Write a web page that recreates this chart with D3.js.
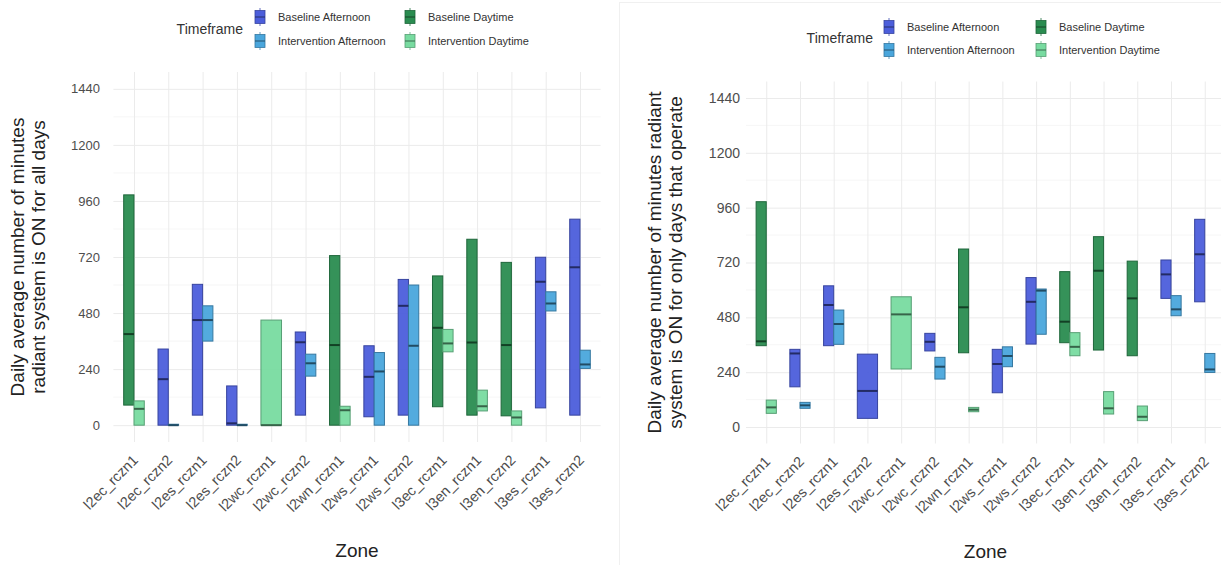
<!DOCTYPE html>
<html>
<head>
<meta charset="utf-8">
<script src="https://cdn.jsdelivr.net/npm/d3@7/dist/d3.min.js"></script>
<style>
  html, body { margin: 0; padding: 0; background: #fff; }
  svg { display: block; font-family: "Liberation Sans", Arial, Helvetica, sans-serif; }
</style>
</head>
<body>
<svg id="chart" width="1221" height="565"></svg>
<script>
// Zones on the x axis
const zones = [
  "l2ec_rczn1", "l2ec_rczn2", "l2es_rczn1", "l2es_rczn2", "l2wc_rczn1",
  "l2wc_rczn2", "l2wn_rczn1", "l2ws_rczn1", "l2ws_rczn2", "l3ec_rczn1",
  "l3en_rczn1", "l3en_rczn2", "l3es_rczn1", "l3es_rczn2"
];

// Timeframe groups (legend order) and their fills
const timeframes = ["Baseline Afternoon", "Baseline Daytime", "Intervention Afternoon", "Intervention Daytime"];
const timeframeColors = ["#4c5edb", "#2a8c50", "#4aa6dc", "#78dba0"];

// y-axis breaks (minutes)
const yTicks = [0, 240, 480, 720, 960, 1200, 1440];
const yMinor = [120, 360, 600, 840, 1080, 1320];

// Minutes ON per day, all days: [zone, timeframe, min, median, max]
const allDays = [
  ["l2ec_rczn1", "Baseline Daytime", 86, 390, 986],
  ["l2ec_rczn1", "Intervention Daytime", 0, 70, 104],
  ["l2ec_rczn2", "Baseline Afternoon", 0, 197, 326],
  ["l2ec_rczn2", "Intervention Afternoon", 0, 0, 4],
  ["l2es_rczn1", "Baseline Afternoon", 43, 450, 603],
  ["l2es_rczn1", "Intervention Afternoon", 360, 450, 511],
  ["l2es_rczn2", "Baseline Afternoon", 0, 8, 168],
  ["l2es_rczn2", "Intervention Afternoon", 0, 0, 4],
  ["l2wc_rczn1", "Intervention Daytime", 0, 0, 450],
  ["l2wc_rczn2", "Baseline Afternoon", 43, 355, 399],
  ["l2wc_rczn2", "Intervention Afternoon", 210, 265, 304],
  ["l2wn_rczn1", "Baseline Daytime", 0, 343, 726],
  ["l2wn_rczn1", "Intervention Daytime", 0, 64, 81],
  ["l2ws_rczn1", "Baseline Afternoon", 36, 207, 340],
  ["l2ws_rczn1", "Intervention Afternoon", 0, 230, 311],
  ["l2ws_rczn2", "Baseline Afternoon", 43, 511, 624],
  ["l2ws_rczn2", "Intervention Afternoon", 0, 340, 600],
  ["l3ec_rczn1", "Baseline Daytime", 79, 417, 639],
  ["l3ec_rczn1", "Intervention Daytime", 314, 350, 410],
  ["l3en_rczn1", "Baseline Daytime", 43, 354, 796],
  ["l3en_rczn1", "Intervention Daytime", 61, 81, 150],
  ["l3en_rczn2", "Baseline Daytime", 40, 343, 697],
  ["l3en_rczn2", "Intervention Daytime", 0, 33, 61],
  ["l3es_rczn1", "Baseline Afternoon", 74, 614, 719],
  ["l3es_rczn1", "Intervention Afternoon", 489, 521, 571],
  ["l3es_rczn2", "Baseline Afternoon", 43, 676, 882],
  ["l3es_rczn2", "Intervention Afternoon", 243, 260, 321]
];

// Minutes ON per day, operating days only: [zone, timeframe, min, median, max]
const operatingDays = [
  ["l2ec_rczn1", "Baseline Daytime", 356, 375, 986],
  ["l2ec_rczn1", "Intervention Daytime", 60, 86, 118],
  ["l2ec_rczn2", "Baseline Afternoon", 176, 322, 340],
  ["l2ec_rczn2", "Intervention Afternoon", 82, 95, 108],
  ["l2es_rczn1", "Baseline Afternoon", 356, 534, 618],
  ["l2es_rczn1", "Intervention Afternoon", 362, 451, 512],
  ["l2es_rczn2", "Baseline Afternoon", 38, 158, 319],
  ["l2wc_rczn1", "Intervention Daytime", 254, 493, 570],
  ["l2wc_rczn2", "Baseline Afternoon", 333, 373, 410],
  ["l2wc_rczn2", "Intervention Afternoon", 210, 264, 305],
  ["l2wn_rczn1", "Baseline Daytime", 325, 524, 779],
  ["l2wn_rczn1", "Intervention Daytime", 67, 76, 86],
  ["l2ws_rczn1", "Baseline Afternoon", 150, 276, 340],
  ["l2ws_rczn1", "Intervention Afternoon", 264, 311, 351],
  ["l2ws_rczn2", "Baseline Afternoon", 363, 548, 654],
  ["l2ws_rczn2", "Intervention Afternoon", 406, 597, 604],
  ["l3ec_rczn1", "Baseline Daytime", 369, 461, 680],
  ["l3ec_rczn1", "Intervention Daytime", 312, 351, 413],
  ["l3en_rczn1", "Baseline Daytime", 337, 684, 833],
  ["l3en_rczn1", "Intervention Daytime", 57, 82, 155],
  ["l3en_rczn2", "Baseline Daytime", 312, 563, 726],
  ["l3en_rczn2", "Intervention Daytime", 28, 45, 92],
  ["l3es_rczn1", "Baseline Afternoon", 563, 668, 731],
  ["l3es_rczn1", "Intervention Afternoon", 487, 515, 575],
  ["l3es_rczn2", "Baseline Afternoon", 548, 756, 909],
  ["l3es_rczn2", "Intervention Afternoon", 239, 252, 322]
];

const svg = d3.select("#chart");
svg.append("rect").attr("width", 1221).attr("height", 565).attr("fill", "#fff");

// faint frame of the second figure
svg.append("rect")
  .attr("x", 619.5).attr("y", 2.5).attr("width", 610).attr("height", 570)
  .attr("fill", "none").attr("stroke", "#f0f0f0").attr("stroke-width", 1);

const color = d3.scaleOrdinal().domain(timeframes).range(timeframeColors);

function drawPanel(cfg) {
  const g = svg.append("g");

  const x = d3.scalePoint().domain(zones).range([cfg.left, cfg.right]).padding(0.6);
  const y = d3.scaleLinear().domain([-72, 1512]).range([cfg.bottom, cfg.top]);
  const step = x.step();
  const plotW = cfg.right - cfg.left;

  // minor horizontal grid
  g.append("g").selectAll("line").data(yMinor).join("line")
    .attr("x1", cfg.left).attr("x2", cfg.right)
    .attr("y1", d => y(d)).attr("y2", d => y(d))
    .attr("stroke", "#f4f4f4").attr("stroke-width", 0.8);

  // major grid via axes
  const yGrid = g.append("g").attr("transform", `translate(${cfg.left},0)`)
    .call(d3.axisLeft(y).tickValues(yTicks).tickSize(-plotW).tickFormat(""));
  yGrid.select(".domain").remove();
  yGrid.selectAll("line").attr("stroke", "#ebebeb").attr("stroke-width", 1);

  const xGrid = g.append("g").attr("transform", `translate(0,${cfg.bottom})`)
    .call(d3.axisBottom(x).tickSize(-(cfg.bottom - cfg.top)).tickFormat(""));
  xGrid.select(".domain").remove();
  xGrid.selectAll("line").attr("stroke", "#ebebeb").attr("stroke-width", 1);

  // y tick labels
  const yAx = g.append("g").attr("transform", `translate(${cfg.tickX},0)`)
    .call(d3.axisLeft(y).tickValues(yTicks).tickSize(0).tickPadding(0).tickFormat(d3.format("d")));
  yAx.select(".domain").remove();
  yAx.selectAll("text")
    .attr("fill", "#4d4d4d").attr("font-size", cfg.tickFont)
    .attr("font-family", "Liberation Sans, Arial, sans-serif");

  // x tick labels, slanted
  g.append("g").selectAll("text").data(zones).join("text")
    .attr("transform", d => `translate(${x(d) + 5},${cfg.bottom + 19}) rotate(-45)`)
    .attr("text-anchor", "end")
    .attr("fill", "#4d4d4d").attr("font-size", cfg.xFont)
    .text(d => d);

  // floating range bars, dodged within each zone
  const rows = cfg.data.map(r => ({ zone: r[0], tf: r[1], lo: r[2], mid: r[3], hi: r[4] }));
  const byZone = d3.group(rows, d => d.zone);
  const totalW = step * 0.6;
  const bars = [];
  byZone.forEach((list, zone) => {
    const ordered = list.slice().sort((a, b) => timeframes.indexOf(a.tf) - timeframes.indexOf(b.tf));
    const w = totalW / ordered.length;
    ordered.forEach((d, i) => bars.push({ ...d, x0: x(zone) - totalW / 2 + i * w, w }));
  });

  const bg = g.append("g");
  bg.selectAll("rect").data(bars).join("rect")
    .attr("x", d => d.x0).attr("width", d => d.w)
    .attr("y", d => y(d.hi)).attr("height", d => Math.max(1, y(d.lo) - y(d.hi)))
    .attr("fill", d => color(d.tf)).attr("fill-opacity", 0.95)
    .attr("stroke", d => d3.color(color(d.tf)).darker(0.9)).attr("stroke-width", 1);

  bg.selectAll("line.med").data(bars).join("line").attr("class", "med")
    .attr("x1", d => d.x0).attr("x2", d => d.x0 + d.w)
    .attr("y1", d => y(d.mid)).attr("y2", d => y(d.mid))
    .attr("stroke", d => d3.color(color(d.tf)).darker(2.2)).attr("stroke-width", 2);

  // axis titles
  g.append("text")
    .attr("transform", `translate(${(cfg.left + cfg.right) / 2},${cfg.zoneY})`)
    .attr("text-anchor", "middle").attr("font-size", 19).attr("fill", "#222")
    .text("Zone");

  const yt = g.append("text")
    .attr("transform", `translate(${cfg.titleX},${(cfg.top + cfg.bottom) / 2}) rotate(-90)`)
    .attr("text-anchor", "middle").attr("font-size", 19).attr("fill", "#222");
  cfg.yTitle.forEach((line, i) => {
    yt.append("tspan").attr("x", 0).attr("dy", i === 0 ? 0 : "1.1em").text(line);
  });

  // legend: two rows (Baseline / Intervention) by two columns (Afternoon / Daytime)
  const lg = g.append("g");
  lg.append("text").attr("x", cfg.legend.titleX).attr("y", cfg.legend.titleY)
    .attr("text-anchor", "end").attr("dominant-baseline", "central")
    .attr("font-size", 14).attr("fill", "#333").text("Timeframe");
  timeframes.forEach((tf, i) => {
    const col = i % 2, row = Math.floor(i / 2);
    const kx = cfg.legend.keyX[col], ky = cfg.legend.rowY[row];
    const c = color(tf);
    lg.append("line").attr("x1", kx + 5).attr("x2", kx + 5).attr("y1", ky - 9).attr("y2", ky + 9)
      .attr("stroke", d3.color(c).darker(0.6)).attr("stroke-width", 0.8);
    lg.append("rect").attr("x", kx).attr("y", ky - 6.5).attr("width", 10).attr("height", 13)
      .attr("fill", c).attr("stroke", d3.color(c).darker(0.9)).attr("stroke-width", 0.8);
    lg.append("line").attr("x1", kx).attr("x2", kx + 10).attr("y1", ky).attr("y2", ky)
      .attr("stroke", d3.color(c).darker(2)).attr("stroke-width", 1);
    lg.append("text").attr("x", kx + 23).attr("y", ky)
      .attr("dominant-baseline", "central").attr("font-size", 11).attr("fill", "#333").text(tf);
  });
}

drawPanel({
  data: allDays,
  left: 113.4, right: 600.6, top: 72, bottom: 442,
  tickX: 100, tickFont: 13, xFont: 14.5, zoneY: 557, titleX: 24,
  yTitle: ["Daily average number of minutes", "radiant system is ON for all days"],
  legend: { titleX: 243, titleY: 29, keyX: [255, 405], rowY: [17, 41] }
});

drawPanel({
  data: operatingDays,
  left: 746, right: 1225, top: 81.5, bottom: 443.5,
  tickX: 740, tickFont: 14, xFont: 14.5, zoneY: 558, titleX: 661,
  yTitle: ["Daily average number of minutes radiant", "system is ON for only days that operate"],
  legend: { titleX: 873, titleY: 38, keyX: [884, 1036], rowY: [27, 50] }
});
</script>
</body>
</html>
